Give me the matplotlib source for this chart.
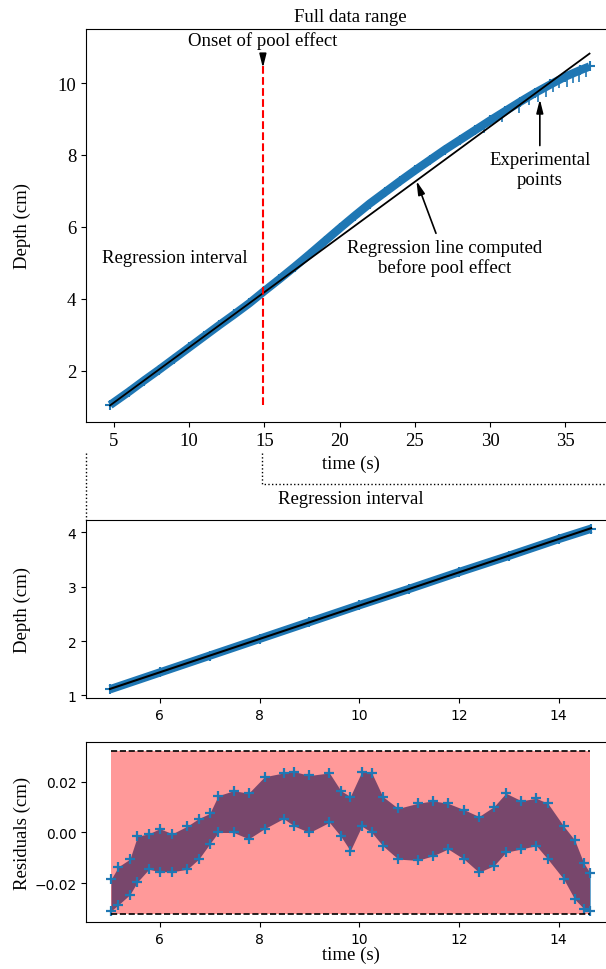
import matplotlib
matplotlib.use("Agg")
import matplotlib.pyplot as plt
from matplotlib.lines import Line2D
import numpy as np

SERIF = "Liberation Serif"
FS = 13.5

# Full data range (depth vs time)
top_t = [4.75, 6, 7, 8, 9, 10, 11, 12, 13, 14, 15, 16, 17, 18, 19, 20, 21, 22,
         23, 24, 25, 26, 27, 28, 29, 30, 31, 32, 33, 34, 35, 36, 36.6]
top_depth = [1.05, 1.42, 1.73, 2.03, 2.34, 2.65, 2.96, 3.27, 3.57, 3.88, 4.22,
             4.55, 4.89, 5.24, 5.60, 5.96, 6.31, 6.65, 6.96, 7.27, 7.57, 7.86,
             8.15, 8.42, 8.69, 8.96, 9.22, 9.48, 9.73, 9.96, 10.18, 10.36, 10.46]

# downward error spikes near the end of the run
spike_t = [29.6, 30.8, 31.9, 32.6, 33.2, 33.7, 34.2, 34.6, 35.1, 35.5, 35.9, 36.4]
spike_top = [8.80, 9.12, 9.42, 9.62, 9.78, 9.90, 10.00, 10.08, 10.18, 10.26, 10.32, 10.40]
spike_bot = [8.60, 8.92, 9.16, 9.40, 9.48, 9.62, 9.76, 9.86, 9.90, 10.00, 10.04, 10.16]

# Regression interval
reg_t = [5.0, 6, 7, 8, 9, 10, 11, 12, 13, 14, 14.65]
reg_depth = [1.11, 1.42, 1.73, 2.04, 2.35, 2.66, 2.96, 3.27, 3.57, 3.88, 4.07]

# Residual cloud (upper / lower envelope of the markers)
res_t = [5.02, 5.17, 5.4, 5.55, 5.78, 6.0, 6.25, 6.55, 6.78, 7.0, 7.17, 7.48,
         7.78, 8.1, 8.48, 8.7, 9.0, 9.4, 9.63, 9.82, 10.05, 10.25, 10.47, 10.78,
         11.17, 11.48, 11.78, 12.1, 12.4, 12.7, 12.94, 13.25, 13.55, 13.78, 14.1,
         14.32, 14.5, 14.63]
res_hi = [-0.0185, -0.0135, -0.0105, -0.0015, -0.0005, 0.0015, -0.0005, 0.0025,
          0.0055, 0.0075, 0.0145, 0.0165, 0.0155, 0.0220, 0.0235, 0.0240, 0.0225,
          0.0235, 0.0165, 0.0142, 0.0240, 0.0235, 0.0142, 0.0095, 0.0115, 0.0125,
          0.0115, 0.0090, 0.0063, 0.0102, 0.0155, 0.0125, 0.0135, 0.0115, 0.0025,
          -0.0030, -0.0120, -0.0160]
res_lo = [-0.0310, -0.0285, -0.0245, -0.0195, -0.0145, -0.0155, -0.0155, -0.0145,
          -0.0105, -0.0045, 0.0000, 0.0000, -0.0025, 0.0015, 0.0055, 0.0025, 0.0000,
          0.0040, -0.0015, -0.0072, 0.0025, 0.0000, -0.0052, -0.0105, -0.0110,
          -0.0092, -0.0065, -0.0105, -0.0157, -0.0131, -0.0078, -0.0065, -0.0052,
          -0.0105, -0.0184, -0.0263, -0.0300, -0.0310]
res_bound = 0.0323

pool_onset = 14.9

fig = plt.figure(figsize=(6.06, 9.70), dpi=100)
ax_top = fig.add_axes([0.142, 0.564, 0.873, 0.405])
ax_mid = fig.add_axes([0.142, 0.2794, 0.873, 0.1835])
ax_res = fig.add_axes([0.142, 0.0485, 0.873, 0.1855])

slope, intercept = np.polyfit(reg_t, reg_depth, 1)
blue = "tab:blue"

# --- full data range
ax_top.plot(top_t, top_depth, color=blue, lw=6, solid_capstyle="butt")
ax_top.plot(top_t, top_depth, "+", color=blue, ms=7, mew=1.5)
ax_top.vlines(spike_t, spike_bot, spike_top, color=blue, lw=1.2)
tt = np.array([top_t[0], top_t[-1]])
ax_top.plot(tt, slope * tt + intercept, color="black", lw=1.3)
ax_top.vlines(pool_onset, min(top_depth), max(top_depth), color="red",
              linestyles="--", lw=1.5)
ax_top.set_xlim(3.15, 38.3)
ax_top.set_ylim(0.58, 11.5)
ax_top.set_xticks([5, 10, 15, 20, 25, 30, 35])
ax_top.set_yticks([2, 4, 6, 8, 10])
for lbl in ax_top.get_xticklabels() + ax_top.get_yticklabels():
    lbl.set_family(SERIF)
    lbl.set_fontsize(FS)
ax_top.set_title("Full data range", family=SERIF, fontsize=FS)
ax_top.set_xlabel("time (s)", family=SERIF, fontsize=FS)
ax_top.set_ylabel("Depth (cm)", family=SERIF, fontsize=FS)

arrow = dict(arrowstyle="-|>,head_length=0.6,head_width=0.15", color="black",
             lw=1.2, shrinkA=2, shrinkB=0)
ax_top.annotate("Onset of pool effect", xy=(pool_onset, 10.42),
                xytext=(pool_onset, 11.2), ha="center", va="center",
                family=SERIF, fontsize=FS, arrowprops=arrow)
ax_top.text(9.05, 5.15, "Regression interval", ha="center", va="center",
            family=SERIF, fontsize=FS)
ax_top.annotate("Regression line computed\nbefore pool effect",
                xy=(25.1, 7.28), xytext=(27.0, 5.15), ha="center",
                va="center", family=SERIF, fontsize=FS, arrowprops=arrow)
ax_top.annotate("Experimental\npoints", xy=(33.3, 9.55), xytext=(33.3, 7.6),
                ha="center", va="center", family=SERIF, fontsize=FS,
                arrowprops=arrow)

# --- regression interval
ax_mid.plot(reg_t, reg_depth, color=blue, lw=6, solid_capstyle="butt")
ax_mid.plot(reg_t, reg_depth, "+", color=blue, ms=7, mew=1.5)
rt = np.array([reg_t[0], reg_t[-1]])
ax_mid.plot(rt, slope * rt + intercept, color="black", lw=1.5)
ax_mid.set_xlim(4.52, 15.13)
ax_mid.set_ylim(0.95, 4.23)
ax_mid.set_yticks([1, 2, 3, 4])
ax_mid.set_title("Regression interval", family=SERIF, fontsize=FS, pad=12)
ax_mid.set_ylabel("Depth (cm)", family=SERIF, fontsize=FS)

# --- residuals
ax_res.fill_between(res_t, res_lo, res_hi, color=blue, lw=0)
ax_res.plot(res_t, res_hi, "+", color=blue, ms=7, mew=1.6)
ax_res.plot(res_t, res_lo, "+", color=blue, ms=7, mew=1.6)
ax_res.fill_between([res_t[0], res_t[-1]], -res_bound, res_bound,
                    color="red", alpha=0.4, lw=0)
ax_res.hlines([-res_bound, res_bound], res_t[0], res_t[-1], colors="black",
              linestyles="--", lw=1.2)
ax_res.set_xlim(4.52, 15.13)
ax_res.set_ylim(-0.0353, 0.0357)
ax_res.set_yticks([-0.02, 0.0, 0.02])
ax_res.set_xlabel("time (s)", family=SERIF, fontsize=FS, labelpad=0)
ax_res.set_ylabel("Residuals (cm)", family=SERIF, fontsize=FS)

for ax in (ax_top, ax_mid, ax_res):
    ax.yaxis.set_label_coords(-0.105, 0.5)

# dotted bracket linking the two upper panels
H = 970.0
W = 606.0
fig.add_artist(Line2D([86 / W, 86 / W], [1 - 454 / H, 1 - 521 / H],
                      color="black", ls=":", lw=1))
fig.add_artist(Line2D([262 / W, 262 / W, 1.0], [1 - 454 / H, 1 - 485 / H, 1 - 485 / H],
                      color="black", ls=":", lw=1))

fig.savefig("out.png", dpi=100)
